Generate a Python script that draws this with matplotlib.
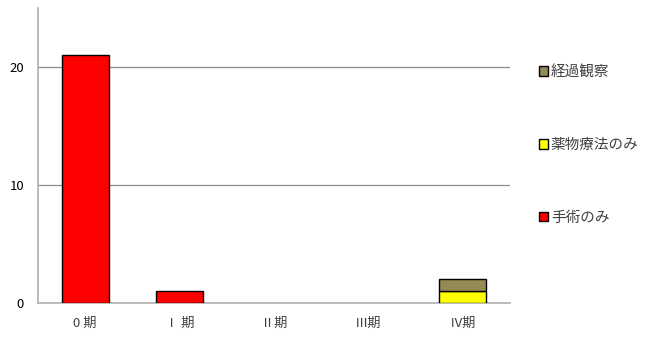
import numpy as np
import matplotlib
matplotlib.use('Agg')
import matplotlib.pyplot as plt

plt.rcParams['font.family'] = ['Noto Sans CJK JP', 'DejaVu Sans']

# data
stages = ['0 期', 'Ⅰ 期', 'Ⅱ期', 'Ⅲ期', 'Ⅳ期']
surgery = [21, 1, 0, 0, 0]       # 手術のみ
drug = [0, 0, 0, 0, 1]           # 薬物療法のみ
observe = [0, 0, 0, 0, 1]        # 経過観察

series = [('手術のみ', surgery, '#FF0000'),
          ('薬物療法のみ', drug, '#FFFF00'),
          ('経過観察', observe, '#948A54')]

fig = plt.figure(figsize=(6.45, 3.41), dpi=100)
ax = fig.add_axes([38/645, 38/341, 472/645, 295/341])

x = np.arange(len(stages))
bottom = np.zeros(len(stages))
handles = []
for name, vals, col in series:
    vals = np.array(vals, dtype=float)
    m = vals > 0
    ax.bar(x[m], vals[m], 0.5, bottom=bottom[m], color=col,
           edgecolor='black', linewidth=1, zorder=3)
    handles.append(plt.Rectangle((0, 0), 1, 1, facecolor=col,
                                 edgecolor='black', linewidth=1))
    bottom += vals

ax.set_xlim(-0.5, 4.5)
ax.set_ylim(0, 25)
ax.set_yticks([0, 10, 20])
ax.set_xticks(x)
ax.set_xticklabels(stages, fontsize=9.5, color='#404040')
ax.tick_params(axis='both', length=0, labelsize=9.5)
ax.tick_params(axis='y', pad=10)
ax.tick_params(axis='x', pad=10)
ax.grid(axis='y', color='#8c8c8c', linewidth=0.9, zorder=0)
for s in ['top', 'right']:
    ax.spines[s].set_visible(False)
for s in ['left', 'bottom']:
    ax.spines[s].set_color('#b0b0b0')
    ax.spines[s].set_linewidth(1.2)

leg = fig.legend(handles[::-1], [s[0] for s in series][::-1],
                 loc='upper left', bbox_to_anchor=(526/645, 1 - 52/341),
                 frameon=False, fontsize=10.5, handlelength=0.6, handleheight=0.6,
                 handletextpad=0.2, labelspacing=4.03)
for t in leg.get_texts():
    t.set_color('#404040')

fig.savefig('out.png', dpi=100)
